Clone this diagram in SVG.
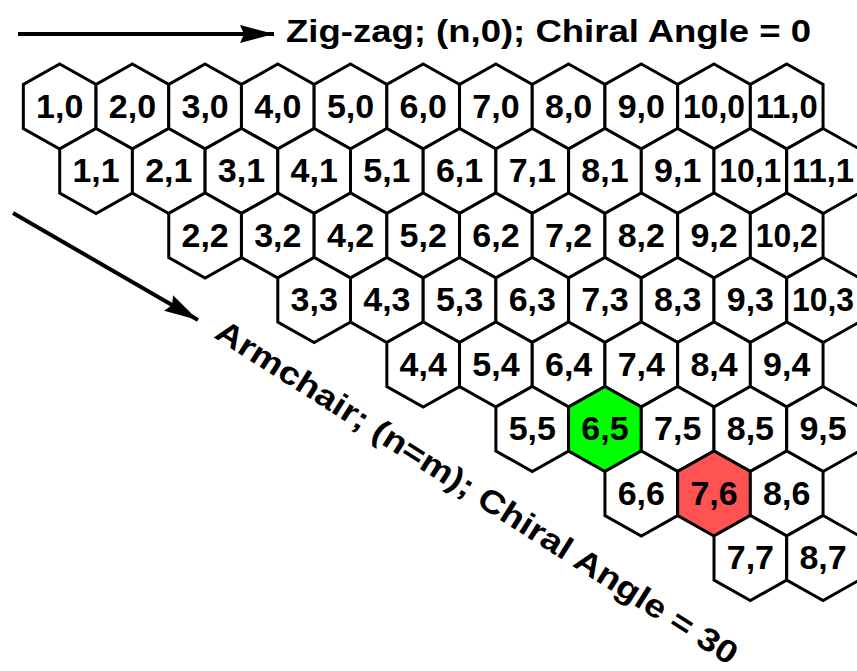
<svg xmlns="http://www.w3.org/2000/svg" xmlns:xlink="http://www.w3.org/1999/xlink" width="857" height="671" viewBox="0 0 857 671">
<style>
.hx{fill:#fff;stroke:#000;stroke-width:3;stroke-linejoin:miter}
.g .hx{fill:#00ff00}
.r .hx{fill:#ff5252}
.lb{font-family:"Liberation Sans",Arial,sans-serif;font-weight:bold;font-size:34px;text-anchor:middle;fill:#000}
.ttl{font-family:"Liberation Sans",Arial,sans-serif;font-weight:bold;font-size:32px;fill:#000}
.ln{stroke:#000;stroke-width:4;fill:none}
</style>
<defs>
<polygon id="hx" points="0,-42.5 36.35,-22 36.35,22 0,42.5 -36.35,22 -36.35,-22"/>
<marker id="ah" markerUnits="userSpaceOnUse" viewBox="-36 -10 38 20" refX="0" refY="0" markerWidth="38" markerHeight="20" orient="auto">
<path d="M0,0 L-34,-9 L-30,0 L-34,9 Z" fill="#000"/>
</marker>
</defs>
<rect width="857" height="671" fill="#fff"/>
<g id="connectors">
<line class="ln" x1="18" y1="34" x2="274" y2="34" marker-end="url(#ah)"/>
<line class="ln" x1="13" y1="213" x2="198" y2="320" marker-end="url(#ah)"/>
</g>
<g id="labels">
<text class="ttl" x="286" y="42" textLength="525" lengthAdjust="spacingAndGlyphs">Zig-zag; (n,0); Chiral Angle = 0</text>
<text class="ttl" transform="translate(213,337) rotate(32.5)" x="0" y="0" font-size="34" textLength="612" lengthAdjust="spacingAndGlyphs">Armchair; (n=m); Chiral Angle = 30</text>
</g>
<g id="hexes">
<g id="h1_0" transform="translate(59.7,106.5)"><use href="#hx" class="hx"/><text class="lb" y="11">1,0</text></g>
<g id="h2_0" transform="translate(132.4,106.5)"><use href="#hx" class="hx"/><text class="lb" y="11">2,0</text></g>
<g id="h3_0" transform="translate(205.1,106.5)"><use href="#hx" class="hx"/><text class="lb" y="11">3,0</text></g>
<g id="h4_0" transform="translate(277.8,106.5)"><use href="#hx" class="hx"/><text class="lb" y="11">4,0</text></g>
<g id="h5_0" transform="translate(350.5,106.5)"><use href="#hx" class="hx"/><text class="lb" y="11">5,0</text></g>
<g id="h6_0" transform="translate(423.2,106.5)"><use href="#hx" class="hx"/><text class="lb" y="11">6,0</text></g>
<g id="h7_0" transform="translate(495.9,106.5)"><use href="#hx" class="hx"/><text class="lb" y="11">7,0</text></g>
<g id="h8_0" transform="translate(568.6,106.5)"><use href="#hx" class="hx"/><text class="lb" y="11">8,0</text></g>
<g id="h9_0" transform="translate(641.3,106.5)"><use href="#hx" class="hx"/><text class="lb" y="11">9,0</text></g>
<g id="h10_0" transform="translate(714,106.5)"><use href="#hx" class="hx"/><text class="lb" y="11" textLength="62" lengthAdjust="spacingAndGlyphs">10,0</text></g>
<g id="h11_0" transform="translate(786.7,106.5)"><use href="#hx" class="hx"/><text class="lb" y="11" textLength="62" lengthAdjust="spacingAndGlyphs">11,0</text></g>

<g id="h1_1" transform="translate(96.05,171)"><use href="#hx" class="hx"/><text class="lb" y="11">1,1</text></g>
<g id="h2_1" transform="translate(168.75,171)"><use href="#hx" class="hx"/><text class="lb" y="11">2,1</text></g>
<g id="h3_1" transform="translate(241.45,171)"><use href="#hx" class="hx"/><text class="lb" y="11">3,1</text></g>
<g id="h4_1" transform="translate(314.15,171)"><use href="#hx" class="hx"/><text class="lb" y="11">4,1</text></g>
<g id="h5_1" transform="translate(386.85,171)"><use href="#hx" class="hx"/><text class="lb" y="11">5,1</text></g>
<g id="h6_1" transform="translate(459.55,171)"><use href="#hx" class="hx"/><text class="lb" y="11">6,1</text></g>
<g id="h7_1" transform="translate(532.25,171)"><use href="#hx" class="hx"/><text class="lb" y="11">7,1</text></g>
<g id="h8_1" transform="translate(604.95,171)"><use href="#hx" class="hx"/><text class="lb" y="11">8,1</text></g>
<g id="h9_1" transform="translate(677.65,171)"><use href="#hx" class="hx"/><text class="lb" y="11">9,1</text></g>
<g id="h10_1" transform="translate(750.35,171)"><use href="#hx" class="hx"/><text class="lb" y="11" textLength="62" lengthAdjust="spacingAndGlyphs">10,1</text></g>
<g id="h11_1" transform="translate(823.05,171)"><use href="#hx" class="hx"/><text class="lb" y="11" textLength="62" lengthAdjust="spacingAndGlyphs">11,1</text></g>

<g id="h2_2" transform="translate(205.1,235.5)"><use href="#hx" class="hx"/><text class="lb" y="11">2,2</text></g>
<g id="h3_2" transform="translate(277.8,235.5)"><use href="#hx" class="hx"/><text class="lb" y="11">3,2</text></g>
<g id="h4_2" transform="translate(350.5,235.5)"><use href="#hx" class="hx"/><text class="lb" y="11">4,2</text></g>
<g id="h5_2" transform="translate(423.2,235.5)"><use href="#hx" class="hx"/><text class="lb" y="11">5,2</text></g>
<g id="h6_2" transform="translate(495.9,235.5)"><use href="#hx" class="hx"/><text class="lb" y="11">6,2</text></g>
<g id="h7_2" transform="translate(568.6,235.5)"><use href="#hx" class="hx"/><text class="lb" y="11">7,2</text></g>
<g id="h8_2" transform="translate(641.3,235.5)"><use href="#hx" class="hx"/><text class="lb" y="11">8,2</text></g>
<g id="h9_2" transform="translate(714,235.5)"><use href="#hx" class="hx"/><text class="lb" y="11">9,2</text></g>
<g id="h10_2" transform="translate(786.7,235.5)"><use href="#hx" class="hx"/><text class="lb" y="11" textLength="62" lengthAdjust="spacingAndGlyphs">10,2</text></g>

<g id="h3_3" transform="translate(314.15,300)"><use href="#hx" class="hx"/><text class="lb" y="11">3,3</text></g>
<g id="h4_3" transform="translate(386.85,300)"><use href="#hx" class="hx"/><text class="lb" y="11">4,3</text></g>
<g id="h5_3" transform="translate(459.55,300)"><use href="#hx" class="hx"/><text class="lb" y="11">5,3</text></g>
<g id="h6_3" transform="translate(532.25,300)"><use href="#hx" class="hx"/><text class="lb" y="11">6,3</text></g>
<g id="h7_3" transform="translate(604.95,300)"><use href="#hx" class="hx"/><text class="lb" y="11">7,3</text></g>
<g id="h8_3" transform="translate(677.65,300)"><use href="#hx" class="hx"/><text class="lb" y="11">8,3</text></g>
<g id="h9_3" transform="translate(750.35,300)"><use href="#hx" class="hx"/><text class="lb" y="11">9,3</text></g>
<g id="h10_3" transform="translate(823.05,300)"><use href="#hx" class="hx"/><text class="lb" y="11" textLength="62" lengthAdjust="spacingAndGlyphs">10,3</text></g>

<g id="h4_4" transform="translate(423.2,364.5)"><use href="#hx" class="hx"/><text class="lb" y="11">4,4</text></g>
<g id="h5_4" transform="translate(495.9,364.5)"><use href="#hx" class="hx"/><text class="lb" y="11">5,4</text></g>
<g id="h6_4" transform="translate(568.6,364.5)"><use href="#hx" class="hx"/><text class="lb" y="11">6,4</text></g>
<g id="h7_4" transform="translate(641.3,364.5)"><use href="#hx" class="hx"/><text class="lb" y="11">7,4</text></g>
<g id="h8_4" transform="translate(714,364.5)"><use href="#hx" class="hx"/><text class="lb" y="11">8,4</text></g>
<g id="h9_4" transform="translate(786.7,364.5)"><use href="#hx" class="hx"/><text class="lb" y="11">9,4</text></g>

<g id="h5_5" transform="translate(532.25,429)"><use href="#hx" class="hx"/><text class="lb" y="11">5,5</text></g>
<g id="h6_5" class="g" transform="translate(604.95,429)"><use href="#hx" class="hx"/><text class="lb" y="11">6,5</text></g>
<g id="h7_5" transform="translate(677.65,429)"><use href="#hx" class="hx"/><text class="lb" y="11">7,5</text></g>
<g id="h8_5" transform="translate(750.35,429)"><use href="#hx" class="hx"/><text class="lb" y="11">8,5</text></g>
<g id="h9_5" transform="translate(823.05,429)"><use href="#hx" class="hx"/><text class="lb" y="11">9,5</text></g>

<g id="h6_6" transform="translate(641.3,493.5)"><use href="#hx" class="hx"/><text class="lb" y="11">6,6</text></g>
<g id="h7_6" class="r" transform="translate(714,493.5)"><use href="#hx" class="hx"/><text class="lb" y="11">7,6</text></g>
<g id="h8_6" transform="translate(786.7,493.5)"><use href="#hx" class="hx"/><text class="lb" y="11">8,6</text></g>

<g id="h7_7" transform="translate(750.35,558)"><use href="#hx" class="hx"/><text class="lb" y="11">7,7</text></g>
<g id="h8_7" transform="translate(823.05,558)"><use href="#hx" class="hx"/><text class="lb" y="11">8,7</text></g>
</g>
</svg>
